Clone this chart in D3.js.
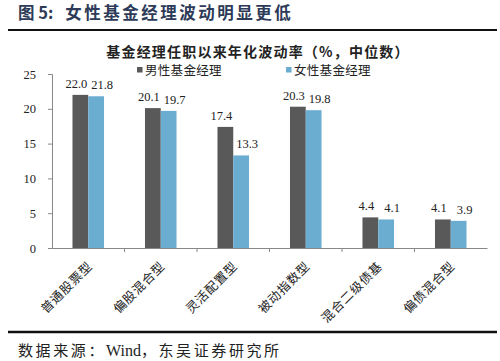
<!DOCTYPE html>
<html>
<head>
  <meta charset="UTF-8">
  <script src="https://d3js.org/d3.v7.min.js"></script>
  <style type="text/css">
    html, body { margin:0; padding:0; background:#fff; }
    svg { display:block; }
  </style>
</head>
<body>
<div class="chart"></div>
<script>
  // data
  var categories = ["普通股票型", "偏股混合型", "灵活配置型", "被动指数型", "混合二级债基", "偏债混合型"];
  var maleValues = [22.0, 20.1, 17.4, 20.3, 4.4, 4.1];
  var femaleValues = [21.8, 19.7, 13.3, 19.8, 4.1, 3.9];
  var seriesNames = ["男性基金经理", "女性基金经理"];
  var yTicks = [0, 5, 10, 15, 20, 25];

  var svgWidth = 500, svgHeight = 361;
  var colors = ["#595959", "#6badd0"];
  var cjk = "'Noto Sans CJK SC', sans-serif";
  var serif = "'Liberation Serif', 'Noto Sans CJK SC', serif";

  var svg = d3.select(".chart")
    .append("svg")
    .attr("width", svgWidth)
    .attr("height", svgHeight);

  // header
  var head = svg.append("text")
    .attr("x", 18).attr("y", 19)
    .attr("font-family", cjk)
    .attr("font-size", 16.5)
    .attr("font-weight", "bold")
    .attr("fill", "#2d3b58");
  head.append("tspan").text("图 5:");
  head.append("tspan").attr("dx", 12).attr("letter-spacing", 2.5).text("女性基金经理波动明显更低");

  svg.append("line")
    .attr("x1", 8).attr("x2", 497)
    .attr("y1", 30).attr("y2", 30)
    .attr("stroke", "#111").attr("stroke-width", 2);

  svg.append("text")
    .attr("x", 258).attr("y", 57)
    .attr("text-anchor", "middle")
    .attr("font-family", cjk)
    .attr("font-size", 14)
    .attr("font-weight", "bold")
    .attr("fill", "#222")
    .attr("letter-spacing", 1.2)
    .text("基金经理任职以来年化波动率（%，中位数）");

  // plot area
  var x0 = 52, x1 = 487, yTop = 74, yBottom = 248;

  var xScale = d3.scaleBand()
    .domain(categories)
    .range([x0, x1])
    .paddingInner(0)
    .paddingOuter(0);

  var yScale = d3.scaleLinear()
    .domain([0, 25])
    .range([yBottom, yTop]);

  var groupWidth = xScale.bandwidth() * 0.435;
  var xSub = d3.scaleBand()
    .domain([0, 1])
    .range([0, groupWidth]);

  // y axis
  var yAxis = svg.append("g")
    .attr("transform", "translate(" + x0 + ",0)")
    .call(d3.axisLeft(yScale).tickValues(yTicks).tickSize(4).tickPadding(12));
  yAxis.select(".domain").attr("stroke", "#888");
  yAxis.selectAll(".tick line").attr("stroke", "#888");
  yAxis.selectAll(".tick text")
    .attr("font-family", serif)
    .attr("font-size", 12.5)
    .attr("fill", "#222");

  // x axis
  var xAxis = svg.append("g")
    .attr("transform", "translate(0," + yBottom + ")")
    .call(d3.axisBottom(xScale).tickSize(0).tickFormat(""));
  xAxis.select(".domain").attr("stroke", "#888");
  xAxis.selectAll(".sep")
    .data(categories.slice(1))
    .enter()
    .append("line")
    .attr("x1", function(d) { return xScale(d); })
    .attr("x2", function(d) { return xScale(d); })
    .attr("y1", 0).attr("y2", 4)
    .attr("stroke", "#888");

  xAxis.selectAll(".cat")
    .data(categories)
    .enter()
    .append("text")
    .attr("text-anchor", "end")
    .attr("font-family", cjk)
    .attr("font-size", 12.5)
    .attr("letter-spacing", 0.8)
    .attr("fill", "#222")
    .attr("transform", function(d) {
      return "translate(" + (xScale(d) + xScale.bandwidth() / 2 + 5) + ",19) rotate(-45)";
    })
    .text(function(d) { return d; });

  // bars
  var series = [maleValues, femaleValues];
  var labelShift = [-4, 6];
  series.forEach(function(vals, s) {
    var g = svg.append("g");
    g.selectAll("rect")
      .data(vals)
      .enter()
      .append("rect")
      .attr("x", function(d, i) {
        return xScale(categories[i]) + (xScale.bandwidth() - groupWidth) / 2 + xSub(s);
      })
      .attr("y", function(d) { return yScale(d); })
      .attr("width", xSub.bandwidth())
      .attr("height", function(d) { return yBottom - yScale(d); })
      .attr("fill", colors[s]);

    g.selectAll("text")
      .data(vals)
      .enter()
      .append("text")
      .attr("text-anchor", "middle")
      .attr("font-family", serif)
      .attr("font-size", 12.5)
      .attr("fill", "#222")
      .attr("x", function(d, i) {
        return xScale(categories[i]) + (xScale.bandwidth() - groupWidth) / 2 + xSub(s) + xSub.bandwidth() / 2 + labelShift[s];
      })
      .attr("y", function(d) { return yScale(d) - 7; })
      .text(function(d) { return d.toFixed(1); });
  });

  // legend
  var legendX = [137, 286];
  var legend = svg.append("g");
  seriesNames.forEach(function(name, s) {
    legend.append("rect")
      .attr("x", legendX[s]).attr("y", 67)
      .attr("width", 5.5).attr("height", 5.5)
      .attr("fill", colors[s]);
    legend.append("text")
      .attr("x", legendX[s] + 8).attr("y", 75)
      .attr("font-family", cjk)
      .attr("font-size", 12.5)
      .attr("letter-spacing", 0.3)
      .attr("fill", "#222")
      .text(name);
  });

  // footer
  svg.append("line")
    .attr("x1", 8).attr("x2", 497)
    .attr("y1", 332).attr("y2", 332)
    .attr("stroke", "#111").attr("stroke-width", 2.5);

  var foot = svg.append("text")
    .attr("x", 18).attr("y", 356)
    .attr("font-family", cjk)
    .attr("font-size", 15)
    .attr("fill", "#222")
    .attr("letter-spacing", 2.6);
  foot.append("tspan").text("数据来源：");
  foot.append("tspan").attr("font-family", serif).attr("font-size", 16).attr("letter-spacing", 0).text("Wind");
  foot.append("tspan").text("，东吴证券研究所");
</script>
</body>
</html>
